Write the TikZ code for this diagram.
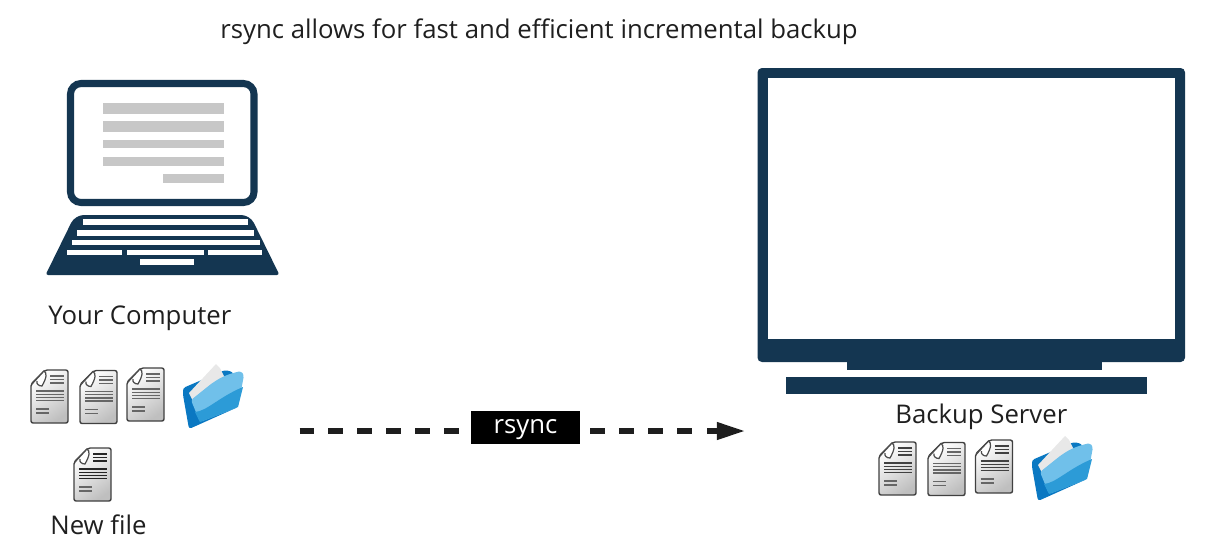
\documentclass[tikz,border=0pt]{standalone}
\usepackage{fontspec}
\setmainfont{Open Sans}
\usetikzlibrary{arrows.meta}
\definecolor{navy}{RGB}{20,54,81}
\definecolor{barcolor}{RGB}{199,199,199}
\definecolor{linkcolor}{RGB}{30,30,30}
\definecolor{folderback}{RGB}{10,120,194}
\definecolor{folderlight}{RGB}{112,192,234}
\definecolor{foldermid}{RGB}{44,155,215}
\definecolor{folderpaper}{RGB}{232,232,232}
\tikzset{
  px/.style={x=0.02cm,y=-0.02cm},
  label/.style={anchor=base west,inner sep=0pt,font=\fontsize{14.65}{18}\selectfont,text=black!88},
  navyfill/.style={fill=navy,draw=none},
  barfill/.style={fill=barcolor,draw=none},
  keyfill/.style={fill=white,draw=none},
  dashlink/.style={draw=linkcolor,line width=2.9pt,dash pattern=on 8.5pt off 8pt},
  pics/docicon/.style={code={
    % Page with the folded corner
    \draw [line width=0.8pt,draw=black!75,rounded corners=1.2pt,top color=white,bottom color=black!25,shading angle=35]
      (14,0) -- (37,0) -- (37,53) -- (0,53) -- (0,14) -- cycle;
    \draw [line width=0.7pt,draw=black!70,fill=white]
      (1,14) -- (13,1) .. controls (16,3) and (16,7) .. (11,16) .. controls (8,16) and (5,14) .. (6,11);
    % Text lines
    \foreach \y in {6,9.5,13} {\draw [line width=0.7pt,draw=#1] (19,\y) -- (33,\y);}
    \foreach \y in {21,24.2,27.4,30.6} {\draw [line width=0.8pt,draw=#1] (5,\y) -- (33,\y);}
    \foreach \y in {39,43} {\draw [line width=0.8pt,draw=black!60] (5,\y) -- (18,\y);}
  }},
  pics/foldericon/.style={code={
    % Back of the folder
    \fill [folderback,rounded corners=1.5pt]
      (0,23) -- (42,5) -- (50,7) -- (55,42) -- (6,64) -- (0,30) -- cycle;
    % Paper
    \fill [folderpaper] (6,28) -- (33,-1) -- (37,3) -- (43,15) -- (10,36) -- cycle;
    % Front flap
    \fill [folderlight,rounded corners=1.5pt]
      (8,35) -- (28,19) .. controls (34,15) and (38,12) .. (50,8) -- (58,6) -- (61,10) -- (55,42) -- (17,57) -- cycle;
    \fill [foldermid]
      (12,47) .. controls (24,46) and (36,32) .. (60,22) -- (55,42) -- (17,57) -- cycle;
  }}
}
\begin{document}
\begin{tikzpicture}[px]
  \useasboundingbox (0,0) rectangle (1219,556);

  % Title
  \node [label] (title) at (220,38) {rsync allows for fast and efficient incremental backup};

  % Laptop lid
  \draw [navy,line width=4pt,rounded corners=6pt] (70.5,83.5) rectangle (254,202.5);

  % Grey bars on the laptop screen
  \fill [barfill] (103,103) rectangle (224,114);
  \fill [barfill] (103,121) rectangle (224,131.5);
  \fill [barfill] (103,139.5) rectangle (224,148);
  \fill [barfill] (103,157) rectangle (224,166);
  \fill [barfill] (163,173.5) rectangle (224,182.5);

  % Laptop base
  \fill [navyfill,rounded corners=5pt] (162,215) -- (250,215) [rounded corners=1.5pt] -- (279.5,275) -- (45.5,275) [rounded corners=5pt] -- (75,215) -- cycle;

  % Keys
  \fill [keyfill] (83,219) rectangle (248,225);
  \fill [keyfill] (77,229.5) rectangle (254,235.5);
  \fill [keyfill] (71.5,240) rectangle (259.5,245);
  \fill [keyfill] (67,249.5) rectangle (121.5,255);
  \fill [keyfill] (127,249.5) rectangle (204,255);
  \fill [keyfill] (208,249.5) rectangle (262,255);
  \fill [keyfill] (140,259) rectangle (194,264.5);

  \node [label] (yourcomputer) at (48,324) {Your Computer};

  % Files on your computer
  \pic at (31,370) {docicon=black!60};
  \pic at (80,370.5) {docicon=black!60};
  \pic at (127,368) {docicon=black!60};
  \pic at (183,365) {foldericon};
  \pic at (74,448) {docicon=black!85};

  \node [label] (newfile) at (50,534) {New file};

  % Backup server monitor
  \fill [navyfill,rounded corners=2.5pt] (757.5,68) rectangle (1185,362);
  \fill [white] (768,78) rectangle (1175,339);
  \fill [navyfill] (847,355) rectangle (1102,370);
  \fill [navyfill] (786,377) rectangle (1147,394);

  \node [label] (backupserver) at (895,423) {Backup Server};

  % Files on the backup server
  \pic at (879,442) {docicon=black!75};
  \pic at (928,442.5) {docicon=black!60};
  \pic at (975.5,440) {docicon=black!75};
  \pic at (1032,437) {foldericon};

  % Transfer link
  \coordinate (linkstart) at (299.5,431);
  \coordinate (linkend) at (745,431);
  \node [fill=black,text=white,inner sep=0pt,minimum width=109*0.02cm,text height=22*0.02cm,text depth=11*0.02cm,font=\fontsize{14.65}{18}\selectfont] (rsync) at (525.5,427.5) {rsync};
  \draw [dashlink] (linkstart) -- (linkstart -| rsync.west);
  \draw [dashlink] (linkend -| rsync.east) ++(10,0) -- ([xshift=-1.06cm]linkend);
  \draw [linkcolor,line width=2.9pt,-{Triangle[length=16pt,width=9.5pt]}] ([xshift=-0.76cm]linkend) -- (linkend);
\end{tikzpicture}
\end{document}
